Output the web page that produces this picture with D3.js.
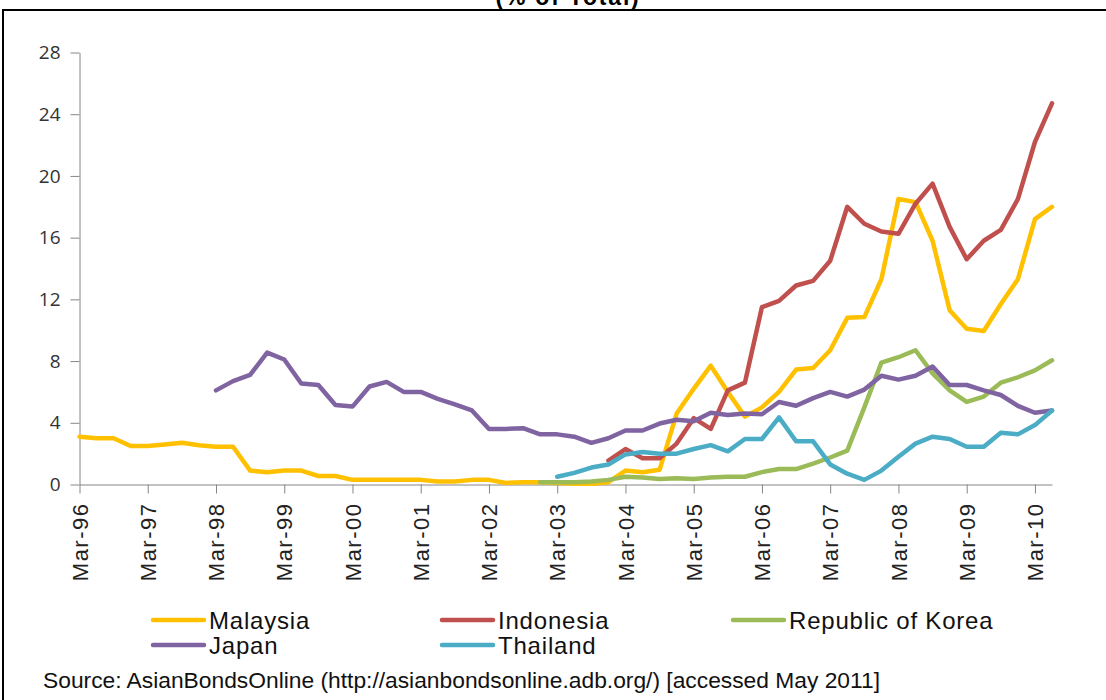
<!DOCTYPE html>
<html>
<head>
<meta charset="utf-8">
<script src="https://cdn.jsdelivr.net/npm/d3@7"></script>
<style>
  body { margin: 0; background: #fff; }
</style>
</head>
<body>
<div id="chart"></div>
<script>
const years = ['96', '97', '98', '99', '00', '01', '02', '03', '04', '05', '06', '07', '08', '09', '10']
const months = ['Mar', 'Jun', 'Sep', 'Dec']
const lastQuarter = 'Jun-10'

const malaysia = [3.1, 3.0, 3.0, 2.5, 2.5, 2.6, 2.7, 2.55, 2.45, 2.45, 0.9, 0.8, 0.9, 0.9, 0.55, 0.55,
  0.3, 0.3, 0.3, 0.3, 0.3, 0.2, 0.2, 0.3, 0.3, 0.1, 0.15, 0.15, 0.1, 0.05, 0.05, 0.15, 0.9, 0.8, 0.95,
  4.6, 6.2, 7.7, 6.0, 4.4, 5.0, 6.0, 7.45, 7.55, 8.7, 10.8, 10.85, 13.3, 18.5, 18.3, 15.8, 11.3, 10.1,
  9.95, 11.7, 13.3, 17.2, 18.0]
const indonesia = [null, null, null, null, null, null, null, null, null, null, null, null, null, null,
  null, null, null, null, null, null, null, null, null, null, null, null, null, null, null, null, null,
  1.55, 2.3, 1.7, 1.7, 2.65, 4.3, 3.6, 6.1, 6.6, 11.5, 11.9, 12.9, 13.2, 14.5, 18.0, 16.9, 16.4, 16.25,
  18.2, 19.5, 16.7, 14.6, 15.8, 16.5, 18.5, 22.2, 24.7]
const korea = [null, null, null, null, null, null, null, null, null, null, null, null, null, null,
  null, null, null, null, null, null, null, null, null, null, null, null, null,
  0.15, 0.15, 0.15, 0.2, 0.3, 0.5, 0.45, 0.35, 0.4, 0.35, 0.45, 0.5, 0.5, 0.8, 1.0, 1.0, 1.35, 1.75,
  2.2, 5.0, 7.9, 8.25, 8.7, 7.2, 6.1, 5.35, 5.7, 6.6, 6.95, 7.4, 8.05]
const japan = [null, null, null, null, null, null, null, null,
  6.1, 6.7, 7.1, 8.55, 8.1, 6.55, 6.45, 5.15, 5.05, 6.35, 6.65, 6.0, 6.0, 5.55, 5.2, 4.8, 3.6, 3.6,
  3.65, 3.25, 3.25, 3.1, 2.7, 3.0, 3.5, 3.5, 3.95, 4.2, 4.1, 4.65, 4.5, 4.6, 4.55, 5.35, 5.1, 5.6, 6.0,
  5.7, 6.15, 7.05, 6.8, 7.05, 7.65, 6.45, 6.45, 6.1, 5.8, 5.1, 4.65, 4.8]
const thailand = [null, null, null, null, null, null, null, null, null, null, null, null, null, null,
  null, null, null, null, null, null, null, null, null, null, null, null, null, null,
  0.5, 0.75, 1.1, 1.3, 1.95, 2.1, 2.0, 2.0, 2.3, 2.55, 2.15, 2.95, 2.95, 4.35, 2.8, 2.8, 1.3, 0.7,
  0.3, 0.9, 1.8, 2.65, 3.1, 2.95, 2.45, 2.45, 3.35, 3.25, 3.85, 4.8]

const yTicks = [0, 4, 8, 12, 16, 20, 24, 28]
const seriesNames = ['Malaysia', 'Indonesia', 'Republic of Korea', 'Japan', 'Thailand']
const seriesColors = ['#FFC000', '#C0504D', '#9BBB59', '#8064A2', '#4BACC6']
const seriesValues = [malaysia, indonesia, korea, japan, thailand]

// quarterly categories Mar-96 ... Jun-10
const quarters = []
for (const yr of years) {
  for (const m of months) {
    quarters.push(`${m}-${yr}`)
    if (`${m}-${yr}` === lastQuarter) break
  }
}
const yearTicks = years.map(yr => `Mar-${yr}`)

const width = 1106
const height = 700

const svg = d3.select('#chart')
  .append('svg')
  .attr('width', width)
  .attr('height', height)
  .style('font-family', '"Liberation Sans", Arial, sans-serif')

// frame around the figure
svg.append('rect')
  .attr('x', 3)
  .attr('y', 10)
  .attr('width', 1120)
  .attr('height', 720)
  .attr('fill', 'none')
  .attr('stroke', '#000')
  .attr('stroke-width', 2)

// title sits above the frame, partly off the page as in the source
svg.append('text')
  .attr('x', 568)
  .attr('y', 5)
  .attr('text-anchor', 'middle')
  .attr('font-size', 23)
  .attr('font-weight', 'bold')
  .attr('letter-spacing', 1.8)
  .text('(% of Total)')

const x = d3.scalePoint()
  .domain(quarters)
  .range([79.5, 1052])

const y = d3.scaleLinear()
  .domain([0, 28])
  .range([484.5, 52.5])

const yAxis = svg.append('g')
  .attr('transform', 'translate(79.5, 0)')
  .call(d3.axisLeft(y).tickValues(yTicks).tickSize(9).tickSizeOuter(0).tickPadding(10))
yAxis.select('.domain').attr('stroke', '#868686')
yAxis.selectAll('.tick line').attr('stroke', '#868686')
yAxis.selectAll('text')
  .attr('font-family', '"Open Sans", sans-serif')
  .attr('font-size', 19)
  .attr('fill', '#333')

const xAxis = svg.append('g')
  .attr('transform', 'translate(0, 484.5)')
  .call(d3.axisBottom(x).tickValues(yearTicks).tickSize(9).tickSizeOuter(0))
xAxis.select('.domain').attr('stroke', '#868686')
xAxis.selectAll('.tick line').attr('stroke', '#868686')
xAxis.selectAll('text')
  .attr('transform', 'rotate(-90)')
  .attr('x', -18)
  .attr('y', 0)
  .attr('dy', '0.35em')
  .attr('text-anchor', 'end')
  .attr('font-size', 22)
  .attr('letter-spacing', 1.5)
  .attr('fill', '#222')

const line = d3.line()
  .defined(d => d != null)
  .x((d, i) => x(quarters[i]))
  .y(d => y(d))

seriesValues.forEach((values, k) => {
  svg.append('path')
    .datum(values)
    .attr('fill', 'none')
    .attr('stroke', seriesColors[k])
    .attr('stroke-width', 4.5)
    .attr('stroke-linejoin', 'round')
    .attr('stroke-linecap', 'round')
    .attr('d', line)
})

// legend, two rows
const legendCols = [153, 442, 733]
const legend = svg.append('g')
seriesNames.forEach((name, k) => {
  const lx = legendCols[k % 3]
  const ly = 620 + Math.floor(k / 3) * 25
  legend.append('line')
    .attr('x1', lx)
    .attr('x2', lx + 51)
    .attr('y1', ly)
    .attr('y2', ly)
    .attr('stroke', seriesColors[k])
    .attr('stroke-width', 4.5)
    .attr('stroke-linecap', 'round')
  legend.append('text')
    .attr('x', lx + 56)
    .attr('y', ly + 9)
    .attr('font-size', 24)
    .attr('letter-spacing', 0.8)
    .attr('fill', '#111')
    .text(name)
})

svg.append('text')
  .attr('x', 43)
  .attr('y', 688)
  .attr('font-size', 22)
  .attr('textLength', 837)
  .attr('lengthAdjust', 'spacingAndGlyphs')
  .attr('fill', '#111')
  .text('Source: AsianBondsOnline (http://asianbondsonline.adb.org/) [accessed May 2011]')
</script>
</body>
</html>
